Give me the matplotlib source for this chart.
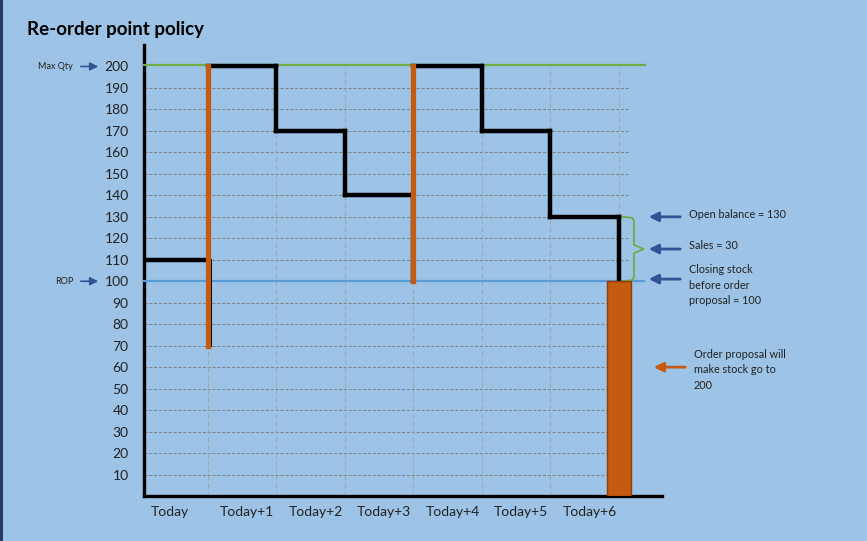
import numpy as np
import matplotlib
matplotlib.use('Agg')
import matplotlib.pyplot as plt
from matplotlib.patches import Rectangle

plt.rcParams['font.family'] = ['Lato', 'DejaVu Sans']

# data
days = ['Today', 'Today+1', 'Today+2', 'Today+3', 'Today+4', 'Today+5', 'Today+6']
opening = [110, 200, 170, 140, 200, 170, 130]
closing = [70, 170, 140, 100, 170, 130, 100]
order_at = [1, 4]          # day boundaries where an order arrives
order_from = [70, 100]
order_to = [200, 200]
proposal_day = 7
proposal_qty = 100
max_qty = 200
rop = 100
yticks = list(range(10, 201, 10))

BG = '#9DC3E6'
ORANGE = '#C55A11'
NAVY = '#2F5597'
GREEN = '#70AD47'
BLUE = '#5B9BD5'

fig = plt.figure(figsize=(8.67, 5.41), dpi=100)
fig.patch.set_facecolor(BG)
fig.patches.append(Rectangle((0, 0), 3 / 867, 1, transform=fig.transFigure,
                             facecolor='#2B3A67', edgecolor='none'))
ax = fig.add_axes([144 / 867, 1 - 496 / 541, 518 / 867, 451 / 541])
ax.set_facecolor(BG)
x0, x1 = 0.066, 7.63
ax.set_xlim(x0, x1)
ax.set_ylim(0, 210)

# grid
ax.hlines(yticks[:-1], x0, 7.16, colors='#7F7F7F', linestyles=(0, (3, 2)), lw=0.7, zorder=1)
ax.vlines(range(1, 8), 0, 200, colors='#A5A5A5', linestyles=(0, (5, 3)), lw=0.7, zorder=1)

# max qty and rop lines
ax.plot([x0, 7.38], [max_qty + 0.6, max_qty + 0.6], color=GREEN, lw=1.6, clip_on=False, zorder=3)
ax.plot([x0, 7.36], [rop, rop], color=BLUE, lw=1.6, clip_on=False, zorder=3)

# stock level step line
for i in range(len(opening)):
    start = x0 if i == 0 else i
    ax.plot([start, i + 1], [opening[i], opening[i]], color='black', lw=3.2, zorder=4,
            solid_capstyle='projecting')
    dx = 0.045 if i + 1 in order_at and i == 0 else 0
    ax.plot([i + 1 + dx, i + 1 + dx], [opening[i], closing[i]], color='black',
            lw=1.5 if dx else 3.2, zorder=4, solid_capstyle='projecting')

# replenishments
for d, a, b in zip(order_at, order_from, order_to):
    ax.plot([d, d], [a, b], color=ORANGE, lw=3.8, zorder=5)

# order proposal bar
ax.bar([proposal_day], [proposal_qty], width=0.35, color=ORANGE, edgecolor='#8A3E0C',
       lw=1, zorder=6)

# axes styling
for s in ['top', 'right']:
    ax.spines[s].set_visible(False)
for s in ['left', 'bottom']:
    ax.spines[s].set_linewidth(2.4)
    ax.spines[s].set_color('black')
ax.set_yticks(yticks)
ax.set_yticklabels([str(v) for v in yticks], fontsize=10, color='#222222')
xt = np.arange(len(days)) + 0.57
xt[0] = 0.45
ax.set_xticks(xt)
ax.set_xticklabels(days, fontsize=10, color='#222222')
ax.tick_params(axis='y', length=0, pad=11)
ax.tick_params(axis='x', length=0, pad=7.5)

fig.text(27 / 867, 1 - 29 / 541, 'Re-order point policy', fontsize=13.5, fontweight='bold',
         va='center', ha='left', color='black')

# left annotations
for label, yv in [('Max Qty', max_qty), ('ROP', rop)]:
    ax.annotate('', xy=(101 / 867, yv), xytext=(78 / 867, yv),
                xycoords=('figure fraction', 'data'), textcoords=('figure fraction', 'data'),
                arrowprops=dict(arrowstyle='-|>', color=NAVY, lw=1.2, mutation_scale=12))
    ax.annotate(label, xy=(73 / 867, yv), xycoords=('figure fraction', 'data'),
                fontsize=6.5, ha='right', va='center', color='#222222')

# right annotations
right_notes = [('Open balance = 130', 130, 131),
               ('Sales = 30', 115, 116.5),
               ('Closing stock\nbefore order\nproposal = 100', 101, 108)]
for txt, ya, yt in right_notes:
    ax.annotate('', xy=(646 / 867, ya), xytext=(683 / 867, ya),
                xycoords=('figure fraction', 'data'), textcoords=('figure fraction', 'data'),
                arrowprops=dict(arrowstyle='-|>', color=NAVY, lw=2, mutation_scale=14))
    ax.annotate(txt, xy=(689 / 867, yt), xycoords=('figure fraction', 'data'),
                fontsize=7.8, ha='left', va='top' if '\n' in txt else 'center',
                color='#222222', linespacing=1.5)

# brace
bx = [7.06, 7.2, 7.22, 7.22, 7.36, 7.22, 7.22, 7.2, 7.06]
by = [130, 129.5, 128, 117, 115, 113, 102, 100.5, 100]
ax.plot(bx, by, color=GREEN, lw=1.3, clip_on=False, zorder=3)

# order proposal note
ax.annotate('', xy=(651 / 867, 60), xytext=(688 / 867, 60),
            xycoords=('figure fraction', 'data'), textcoords=('figure fraction', 'data'),
            arrowprops=dict(arrowstyle='-|>', color=ORANGE, lw=2, mutation_scale=14))
ax.annotate('Order proposal will\nmake stock go to\n200', xy=(694 / 867, 68.5),
            xycoords=('figure fraction', 'data'), fontsize=7.8, ha='left', va='top',
            color='#222222', linespacing=1.5)

fig.savefig('out.png', dpi=100, facecolor=BG)
